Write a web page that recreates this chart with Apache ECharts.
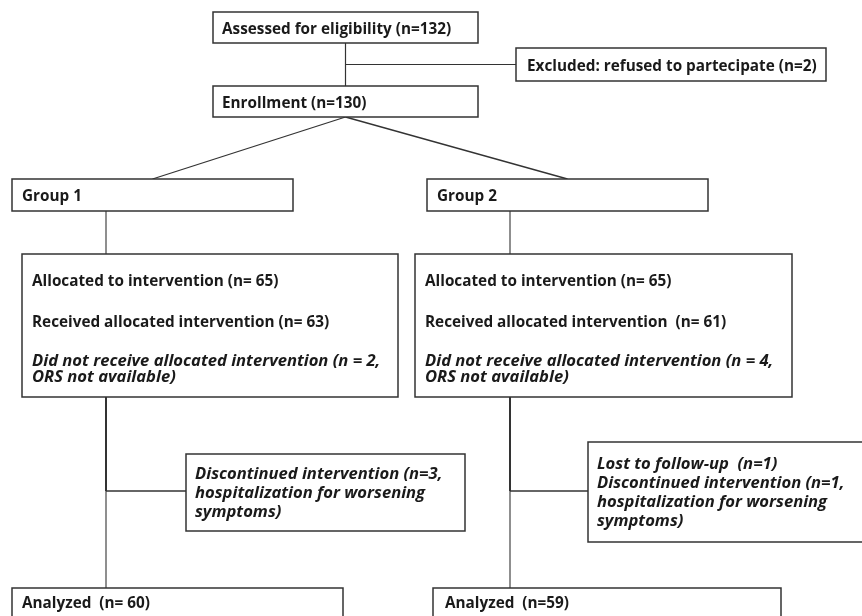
<!DOCTYPE html>
<html><head><meta charset="utf-8">
<script src="https://cdn.jsdelivr.net/npm/echarts@6/dist/echarts.min.js"></script>
<style>html,body{margin:0;padding:0;background:#fff}#c{width:862px;height:616px}</style>
</head><body><div id="c"></div>
<script>
// ---- data ----
const screeningStages = ['Assessed for eligibility', 'Excluded: refused to partecipate', 'Enrollment'];
const screeningCounts = [132, 2, 130];
const groupNames = ['Group 1', 'Group 2'];
const allocatedCounts = [65, 65];
const receivedCounts = [63, 61];
const notReceivedCounts = [2, 4];
const notReceivedReason = 'ORS not available';
const lostCounts = [0, 1];
const discontinuedCounts = [3, 1];
const discontinuedReason = ['hospitalization for worsening', 'symptoms)'];
const analyzedCounts = [60, 59];

// ---- layout (page units) ----
const W = 862, H = 616;
const FONT = 'Open Sans';
const FS = 15.3;
const FS_IT = 16.6;
const TEXT_DY = 1.5;
const lineColor = '#333333';
const textColor = '#1a1a1a';

const boxes = [];
function box(r, tx, lines) { boxes.push({ r, tx, lines }); return boxes.length - 1; }

const bAssessed = box([213, 12, 478, 43], 9, [[`${screeningStages[0]} (n=${screeningCounts[0]})`, 0, 16]]);
const bExcluded = box([516, 48, 826, 81], 11, [[`${screeningStages[1]} (n=${screeningCounts[1]})`, 0, 17]]);
const bEnrolled = box([213, 86, 478, 117], 9, [[`${screeningStages[2]} (n=${screeningCounts[2]})`, 0, 16]]);

const groupX = [12, 427];
const allocX = [[22, 398], [415, 792]];
const sideBoxes = [[186, 454, 465, 531], [588, 442, 872, 542]];
const analyzedX = [[12, 343], [433, 781]];
const stemX = [106, 510];

const gBox = [], aBox = [], sBox = [], zBox = [];
for (let g = 0; g < 2; g++) {
  gBox.push(box([groupX[g], 179, groupX[g] + 281, 211], 10, [[groupNames[g], 0, 16]]));
  const recvSpace = g === 1 ? '  ' : ' ';
  aBox.push(box([allocX[g][0], 254, allocX[g][1], 397], 10, [
    [`Allocated to intervention (n= ${allocatedCounts[g]})`, 0, 26],
    [`Received allocated intervention${recvSpace}(n= ${receivedCounts[g]})`, 0, 67],
    [`Did not receive allocated intervention (n = ${notReceivedCounts[g]},`, 1, 105.5],
    [`${notReceivedReason})`, 1, 122]
  ]));
  const sideLines = [];
  if (lostCounts[g] > 0) { sideLines.push([`Lost to follow-up  (n=${lostCounts[g]})`, 1, 21]); }
  const y0 = lostCounts[g] > 0 ? 40 : 19;
  sideLines.push([`Discontinued intervention (n=${discontinuedCounts[g]},`, 1, y0]);
  sideLines.push([discontinuedReason[0], 1, y0 + 18.7]);
  sideLines.push([discontinuedReason[1], 1, y0 + 37.4]);
  sBox.push(box(sideBoxes[g], 9, sideLines));
  const analyzedSpace = g === 0 ? ' ' : '';
  zBox.push(box([analyzedX[g][0], 588, analyzedX[g][1], 650], g === 0 ? 10 : 12,
    [[`Analyzed  (n=${analyzedSpace}${analyzedCounts[g]})`, 0, 14]]));
}

// connectors derived from the boxes
const R = i => boxes[i].r;
const midX = i => (R(i)[0] + R(i)[2]) / 2;
const midY = i => (R(i)[1] + R(i)[3]) / 2;
const segs = [];
const topX = midX(bAssessed);
segs.push([topX, R(bAssessed)[3], topX, R(bEnrolled)[1], 1.2]);
segs.push([topX, midY(bExcluded), R(bExcluded)[0], midY(bExcluded), 1.2]);
for (let g = 0; g < 2; g++) {
  segs.push([topX, R(bEnrolled)[3], midX(gBox[g]), R(gBox[g])[1], 1.3]);
  segs.push([stemX[g], R(gBox[g])[3], stemX[g], R(aBox[g])[1], 1.1]);
  const branchY = 491;
  segs.push([stemX[g], R(aBox[g])[3], stemX[g], branchY, 2]);
  segs.push([stemX[g], branchY, stemX[g], R(zBox[g])[1], 1.1]);
  segs.push([stemX[g], branchY, R(sBox[g])[0], branchY, 1.5]);
}

const chart = echarts.init(document.getElementById('c'), null, { renderer: 'canvas' });
chart.setOption({
  animation: false,
  backgroundColor: '#ffffff',
  grid: { left: 0, right: 0, top: 0, bottom: 0 },
  xAxis: { type: 'value', min: 0, max: W, show: false },
  yAxis: { type: 'value', min: 0, max: H, inverse: true, show: false },
  series: [
    {
      type: 'custom', clip: false, silent: true,
      data: segs.map((s, i) => [i]),
      renderItem: (params, api) => {
        const s = segs[api.value(0)];
        const p1 = api.coord([s[0], s[1]]), p2 = api.coord([s[2], s[3]]);
        return { type: 'line', shape: { x1: p1[0], y1: p1[1], x2: p2[0], y2: p2[1] },
          style: { stroke: lineColor, lineWidth: s[4] } };
      }
    },
    {
      type: 'custom', clip: false, silent: true,
      data: boxes.map((b, i) => [i]),
      renderItem: (params, api) => {
        const b = boxes[api.value(0)];
        const p0 = api.coord([b.r[0], b.r[1]]), p1 = api.coord([b.r[2], b.r[3]]);
        const children = [{
          type: 'rect',
          shape: { x: p0[0], y: p0[1], width: p1[0] - p0[0], height: p1[1] - p0[1] },
          style: { fill: '#ffffff', stroke: lineColor, lineWidth: 1.5 }
        }];
        b.lines.forEach(l => {
          const tp = api.coord([b.r[0] + b.tx, b.r[1] + l[2] + TEXT_DY]);
          children.push({
            type: 'text',
            style: {
              text: l[0], x: tp[0], y: tp[1], fill: textColor,
              fontFamily: FONT, fontSize: l[1] ? FS_IT : FS, fontWeight: 'bold',
              fontStyle: l[1] ? 'italic' : 'normal',
              align: 'left', verticalAlign: 'middle'
            }
          });
        });
        return { type: 'group', children };
      }
    }
  ]
});
</script></body></html>
